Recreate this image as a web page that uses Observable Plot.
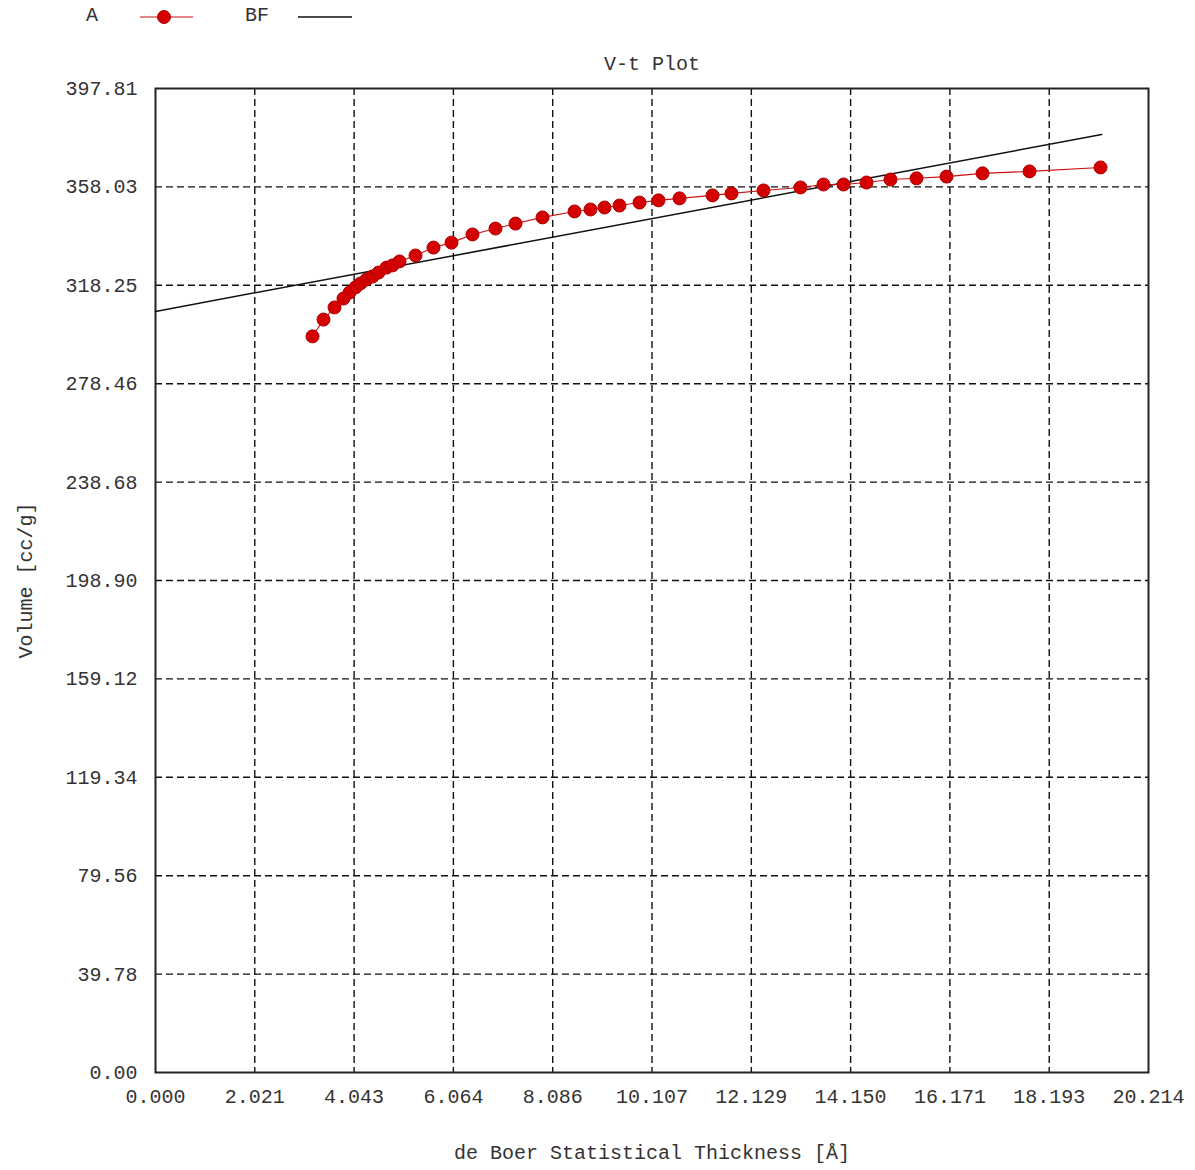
<!DOCTYPE html>
<html>
<head>
<meta charset="utf-8">
<script src="https://cdn.jsdelivr.net/npm/d3@7"></script>
<script src="https://cdn.jsdelivr.net/npm/@observablehq/plot@0.6"></script>
<style>
  html, body { margin: 0; padding: 0; background: #fff; }
  body { width: 1195px; font-family: "Liberation Mono", "DejaVu Sans Mono", monospace; color: #333; }
  #legend { position: relative; height: 34px; font-size: 20px; }
  #legend .lab { position: absolute; top: 4px; }
  #legend svg { position: absolute; top: 0; left: 0; }
</style>
</head>
<body>
<div id="legend">
  <span class="lab" style="left:86px">A</span>
  <span class="lab" style="left:245px">BF</span>
  <svg width="400" height="34">
    <line x1="140" x2="193" y1="17" y2="17" stroke="#cc1010" stroke-width="1.2"/>
    <circle cx="164" cy="17" r="6.5" fill="#d40000" stroke="#b00000"/>
    <line x1="298" x2="352" y1="17" y2="17" stroke="#111" stroke-width="1.6"/>
  </svg>
</div>
<div id="chart"></div>
<script>
const xTickLabels = ["0.000","2.021","4.043","6.064","8.086","10.107","12.129","14.150","16.171","18.193","20.214"];
const yTickLabels = ["0.00","39.78","79.56","119.34","159.12","198.90","238.68","278.46","318.25","358.03","397.81"];
const xTicks = xTickLabels.map(Number);
const yTicks = yTickLabels.map(Number);

// Series A: de Boer thickness (Å) vs volume (cc/g)
const thicknessA = [3.196,3.420,3.644,3.827,3.949,4.071,4.173,4.295,4.417,4.540,4.702,4.825,4.967,5.293,5.659,6.026,6.453,6.921,7.329,7.878,8.530,8.855,9.140,9.446,9.853,10.239,10.667,11.339,11.725,12.377,13.130,13.598,14.006,14.474,14.962,15.491,16.102,16.835,17.792,19.237];
const volumeA = [297.6,304.4,309.3,312.9,315.3,317.4,319.0,320.6,321.8,323.4,325.4,326.3,327.9,330.3,333.5,335.5,338.8,341.2,343.2,345.7,348.1,348.9,349.7,350.5,351.7,352.6,353.4,354.6,355.4,356.6,357.8,359.0,359.0,359.8,361.0,361.5,362.2,363.5,364.3,365.9];

// Series BF: best-fit line
const thicknessBF = [0, 19.26];
const volumeBF = [307.7, 379.2];

const title = "V-t Plot";
const xLabel = "de Boer Statistical Thickness [Å]";
const yLabel = "Volume [cc/g]";

const dataA = thicknessA.map((t, i) => ({t, v: volumeA[i]}));
const dataBF = thicknessBF.map((t, i) => ({t, v: volumeBF[i]}));

const gridStyle = {stroke: "#111", strokeOpacity: 1, strokeWidth: 1.4, strokeDasharray: "7,4"};

const chart = Plot.plot({
  width: 1195,
  height: 1136,
  marginTop: 54,
  marginBottom: 98,
  marginLeft: 155,
  marginRight: 47,
  style: {fontFamily: "Liberation Mono, DejaVu Sans Mono, monospace", fontSize: "20px", color: "#333", background: "#fff"},
  x: {domain: [0, 20.214]},
  y: {domain: [0, 397.81]},
  marks: [
    Plot.gridX(xTicks.slice(1, -1), gridStyle),
    Plot.gridY(yTicks.slice(1, -1), gridStyle),
    Plot.frame({stroke: "#222", strokeWidth: 2}),
    Plot.axisX(xTicks, {tickSize: 0, tickPadding: 16, tickFormat: (d, i) => xTickLabels[i], label: null, fill: "#333"}),
    Plot.axisY(yTicks, {tickSize: 0, tickPadding: 18, tickFormat: (d, i) => yTickLabels[i], label: null, fill: "#333"}),
    Plot.line(dataBF, {x: "t", y: "v", stroke: "#111", strokeWidth: 1.5}),
    Plot.line(dataA, {x: "t", y: "v", stroke: "#cc1010", strokeWidth: 1.1}),
    Plot.dot(dataA, {x: "t", y: "v", r: 6.5, fill: "#d40000", stroke: "#b00000", strokeWidth: 1}),
    Plot.text([title], {frameAnchor: "top", dy: -33, text: d => d, fill: "#333"}),
    Plot.text([xLabel], {frameAnchor: "bottom", dy: 86, text: d => d, fill: "#333"}),
    Plot.text([yLabel], {frameAnchor: "left", dx: -130, rotate: -90, textAnchor: "middle", text: d => d, fill: "#333"})
  ]
});
document.getElementById("chart").appendChild(chart);
</script>
</body>
</html>
